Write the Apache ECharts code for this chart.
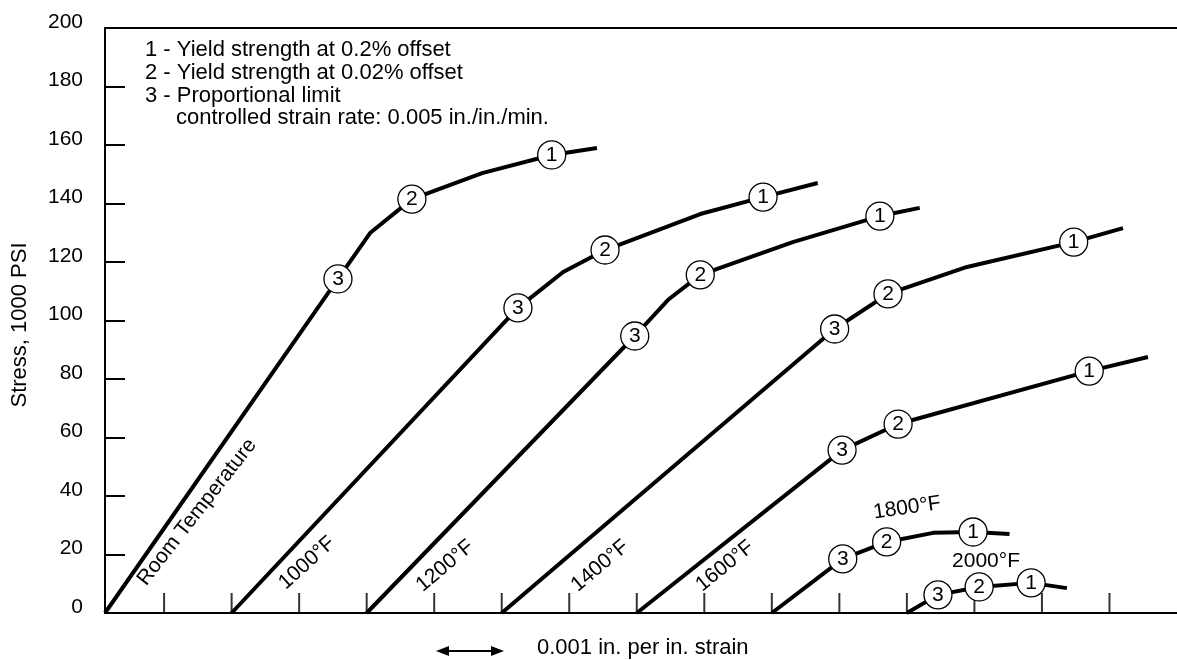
<!DOCTYPE html>
<html><head><meta charset="utf-8">
<script src="https://cdn.jsdelivr.net/npm/echarts@6/dist/echarts.min.js"></script>
<style>html,body{margin:0;padding:0;background:#fff}#c{width:1177px;height:660px}</style>
</head><body><div id="c"></div>
<script>
// x in strain-tick units (each tick = 0.001 in./in.), y in 1000 PSI
const rtX = [0.125, 3.575, 4.05, 4.67, 5.71, 6.74, 7.41];
const rtY = [0, 114.2, 129.9, 141.5, 150.4, 156.6, 159.0];
const rtMk = ['', '3', '', '2', '', '1', ''];

const f1000X = [2.0, 6.24, 6.91, 7.53, 8.94, 9.87, 10.68];
const f1000Y = [0, 104.3, 116.6, 124.1, 136.4, 142.2, 147.0];
const f1000Mk = ['', '3', '', '2', '', '1', ''];

const f1200X = [4.0, 7.97, 8.46, 8.94, 10.31, 11.60, 12.19];
const f1200Y = [0, 94.7, 107.0, 115.6, 126.8, 135.7, 138.5];
const f1200Mk = ['', '3', '', '2', '', '1', ''];

const f1400X = [6.0, 10.93, 11.72, 12.89, 14.47, 15.20];
const f1400Y = [0, 97.1, 109.1, 118.3, 126.8, 131.6];
const f1400Mk = ['', '3', '2', '', '1', ''];

const f1600X = [8.0, 11.04, 11.87, 14.70, 15.57];
const f1600Y = [0, 55.7, 64.6, 82.7, 87.5];
const f1600Mk = ['', '3', '2', '1', ''];

const f1800X = [10.0, 11.05, 11.70, 12.39, 12.98, 13.52];
const f1800Y = [0, 18.5, 24.3, 27.4, 27.7, 27.0];
const f1800Mk = ['', '3', '2', '', '1', ''];

const f2000X = [12.0, 12.46, 13.07, 13.84, 14.37];
const f2000Y = [0, 6.2, 8.9, 10.3, 8.5];
const f2000Mk = ['', '3', '2', '1', ''];

const xTickPositions = [1, 2, 3, 4, 5, 6, 7, 8, 9, 10, 11, 12, 13, 14, 15];

const curveLabels = ['Room Temperature', '1000°F', '1200°F', '1400°F', '1600°F', '1800°F', '2000°F'];
const legendLines = [
  '1 - Yield strength at 0.2% offset',
  '2 - Yield strength at 0.02% offset',
  '3 - Proportional limit',
  'controlled strain rate: 0.005 in./in./min.'
];
const yAxisTitle = 'Stress, 1000 PSI';
const xNote = '0.001 in. per in. strain';

const FONT = "'Liberation Sans', Arial, Helvetica, sans-serif";

function curve(name, xs, ys, marks) {
  return {
    type: 'line', name: name,
    data: xs.map((x, i) => marks[i]
      ? { value: [x, ys[i]], symbol: 'circle', symbolSize: 28,
          label: { show: true, formatter: marks[i] } }
      : { value: [x, ys[i]], symbol: 'none' }),
    showSymbol: true, showAllSymbol: true,
    lineStyle: { color: '#000', width: 4 },
    itemStyle: { color: '#fff', borderColor: '#000', borderWidth: 1.3 },
    label: { show: false, position: 'inside', color: '#000', fontSize: 21, fontFamily: FONT },
    emphasis: { disabled: true },
    silent: true, animation: false, z: 3
  };
}

const chart = echarts.init(document.getElementById('c'), null, { renderer: 'canvas' });

const labelPos = [
  { x: 197, y: 512, r: 52 },
  { x: 307, y: 563, r: 42 },
  { x: 445, y: 566, r: 40 },
  { x: 600, y: 566, r: 40 },
  { x: 725, y: 566, r: 39 },
  { x: 907, y: 508, r: 8 },
  { x: 986, y: 561, r: 0 }
];

const graphics = [];
curveLabels.forEach((t, i) => {
  const p = labelPos[i];
  graphics.push({ type: 'text', x: p.x, y: p.y, rotation: p.r * Math.PI / 180,
    style: { text: t, fontSize: 21, fontFamily: FONT, fill: '#000', align: 'center', verticalAlign: 'middle' } });
});
const legY = [50, 73, 96, 118];
const legX = [145, 145, 145, 176];
legendLines.forEach((t, i) => {
  graphics.push({ type: 'text', x: legX[i], y: legY[i],
    style: { text: t, fontSize: 22, fontFamily: FONT, fill: '#000', align: 'left', verticalAlign: 'middle' } });
});
graphics.push({ type: 'text', x: 20, y: 325, rotation: Math.PI / 2,
  style: { text: yAxisTitle, fontSize: 22, fontFamily: FONT, fill: '#000', align: 'center', verticalAlign: 'middle' } });
graphics.push({ type: 'text', x: 537, y: 648,
  style: { text: xNote, fontSize: 22, fontFamily: FONT, fill: '#000', align: 'left', verticalAlign: 'middle' } });
// double-headed arrow
graphics.push({ type: 'line', shape: { x1: 445, y1: 651, x2: 495, y2: 651 }, style: { stroke: '#000', lineWidth: 2 } });
graphics.push({ type: 'polygon', shape: { points: [[436, 651], [449, 646], [449, 656]] }, style: { fill: '#000' } });
graphics.push({ type: 'polygon', shape: { points: [[504, 651], [491, 646], [491, 656]] }, style: { fill: '#000' } });

chart.setOption({
  animation: false,
  backgroundColor: '#fff',
  grid: { left: 105, right: 0, top: 28, bottom: 47, containLabel: false },
  xAxis: [
    { type: 'value', min: 0.125, max: 16, position: 'bottom',
      axisLine: { show: true, onZero: false, lineStyle: { color: '#000', width: 2 } },
      axisTick: { show: false }, axisLabel: { show: false }, splitLine: { show: false } },
    { type: 'value', min: 0.125, max: 16, position: 'top',
      axisLine: { show: true, onZero: false, lineStyle: { color: '#000', width: 2 } },
      axisTick: { show: false }, axisLabel: { show: false }, splitLine: { show: false } }
  ],
  yAxis: {
    type: 'value', min: 0, max: 200, interval: 20,
    axisLine: { show: true, lineStyle: { color: '#000', width: 2 } },
    axisTick: { show: true, inside: true, length: 20, lineStyle: { color: '#000', width: 2 } },
    axisLabel: { color: '#000', fontSize: 21, fontFamily: FONT, margin: 22, verticalAlign: 'bottom', lineHeight: 12 },
    splitLine: { show: false }
  },
  graphic: graphics,
  series: [
    { type: 'scatter', data: xTickPositions.map(x => [x, 0]), symbol: 'rect', symbolSize: [2, 20],
      symbolOffset: [0, -10], itemStyle: { color: '#000' }, silent: true, z: 1, emphasis: { disabled: true } },
    curve('Room Temperature', rtX, rtY, rtMk),
    curve('1000°F', f1000X, f1000Y, f1000Mk),
    curve('1200°F', f1200X, f1200Y, f1200Mk),
    curve('1400°F', f1400X, f1400Y, f1400Mk),
    curve('1600°F', f1600X, f1600Y, f1600Mk),
    curve('1800°F', f1800X, f1800Y, f1800Mk),
    curve('2000°F', f2000X, f2000Y, f2000Mk)
  ]
});
</script>
</body></html>
